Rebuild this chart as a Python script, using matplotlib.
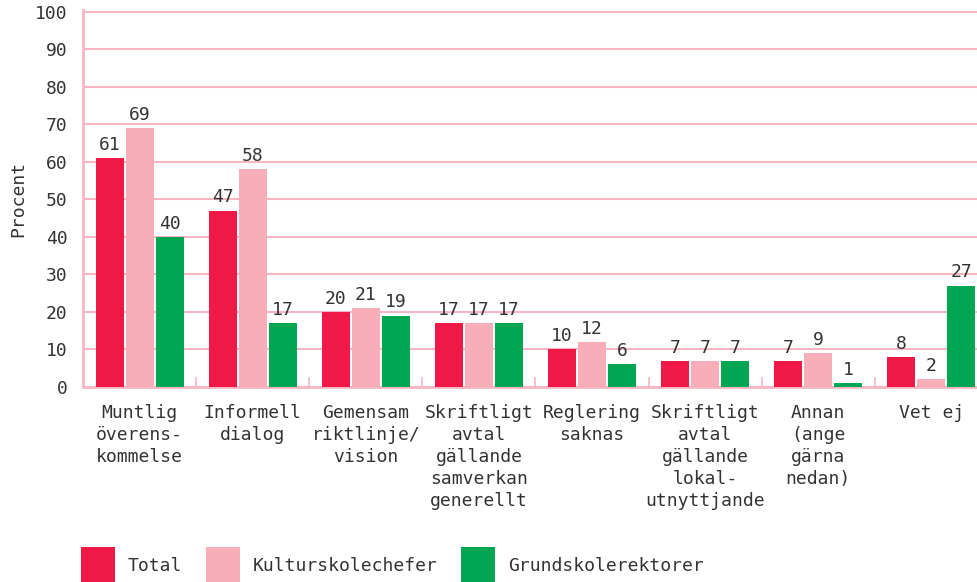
import matplotlib
matplotlib.use('Agg')
import matplotlib.pyplot as plt
import numpy as np

plt.rcParams['font.family'] = ['DejaVu Sans Mono']
plt.rcParams['text.color'] = '#333333'
plt.rcParams['xtick.labelcolor'] = '#333333'
plt.rcParams['ytick.labelcolor'] = '#333333'
plt.rcParams['axes.labelcolor'] = '#333333'

categories = ['Muntlig\növerens-\nkommelse', 'Informell\ndialog', 'Gemensam\nriktlinje/\nvision',
              'Skriftligt\navtal\ngällande\nsamverkan\ngenerellt', 'Reglering\nsaknas',
              'Skriftligt\navtal\ngällande\nlokal-\nutnyttjande', 'Annan\n(ange\ngärna\nnedan)', 'Vet ej']
series_names = ['Total', 'Kulturskolechefer', 'Grundskolerektorer']
total = [61, 47, 20, 17, 10, 7, 7, 8]
kulturskolechefer = [69, 58, 21, 17, 12, 7, 9, 2]
grundskolerektorer = [40, 17, 19, 17, 6, 7, 1, 27]
yticks = list(range(0, 101, 10))

colors = ['#ef1847', '#f7aeb9', '#00a651']
grid_col = '#f7b6c2'

fig = plt.figure(figsize=(9.78, 5.82), dpi=100)
ax = fig.add_axes([83 / 978, 1 - 387 / 582, 905 / 978, 377 / 582])

x = np.arange(len(categories))
step = 0.265
width = 0.247
for i, (vals, name) in enumerate(zip([total, kulturskolechefer, grundskolerektorer], series_names)):
    bars = ax.bar(x + (i - 1) * step, vals, width, color=colors[i], label=name, zorder=3)
    ax.bar_label(bars, padding=3, fontsize=13, color='#333333')

ax.set_xlim(-0.5, len(categories) - 0.5)
ax.set_ylim(0, 100.4)
ax.set_yticks(yticks)
ax.set_yticklabels([str(v) for v in yticks], fontsize=13)
ax.yaxis.grid(True, color=grid_col, linewidth=1.5, zorder=0)
ax.set_axisbelow(True)

ax.set_xticks(x)
ax.set_xticklabels(categories, fontsize=13, linespacing=1.3)
ax.set_xticks(np.arange(0.5, len(categories) - 0.5), minor=True)
ax.tick_params(axis='x', which='major', length=0, pad=12)
ax.tick_params(axis='x', which='minor', direction='in', length=7, width=1.2, color=grid_col)
ax.tick_params(axis='y', length=0, pad=11)

for s in ['top', 'right']:
    ax.spines[s].set_visible(False)
for s in ['left', 'bottom']:
    ax.spines[s].set_color(grid_col)
    ax.spines[s].set_linewidth(2)

ax.set_ylabel('Procent', fontsize=13, labelpad=6)

fig.legend(loc='upper left', bbox_to_anchor=(81 / 978, 1 - 547 / 582), ncol=3, frameon=False,
           fontsize=13, handlelength=1.9, handleheight=2.8, handletextpad=0.7,
           columnspacing=1.3, borderpad=0, borderaxespad=0)

fig.savefig('out.png', dpi=100)
